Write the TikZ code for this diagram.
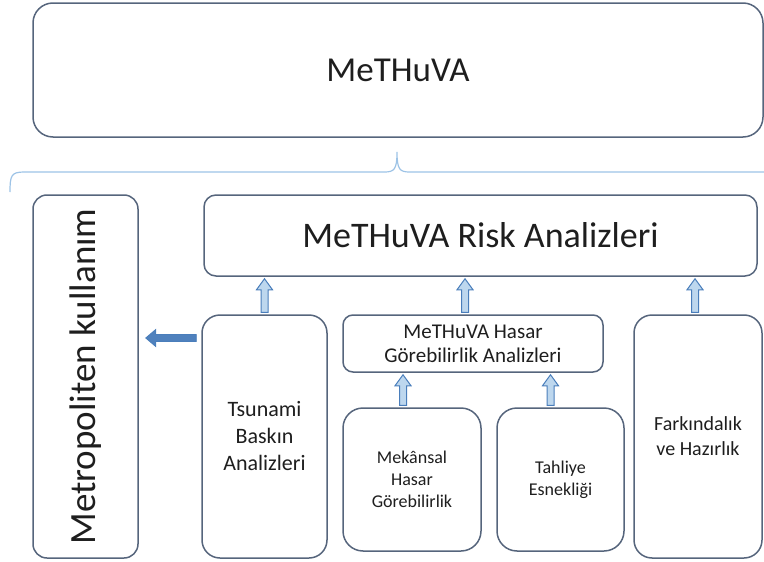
\documentclass[tikz,border=0pt]{standalone}
\usepackage{fontspec}
\setmainfont{Carlito}
\usetikzlibrary{calc}
\definecolor{kutucizgi}{HTML}{56657C}
\definecolor{ayrac}{HTML}{9DC3E6}
\definecolor{okdolgu}{HTML}{BDD7EE}
\definecolor{okcizgi}{HTML}{4A7EBB}
\definecolor{okmavi}{HTML}{4F81BD}
\definecolor{yazi}{HTML}{1E1E1E}
\tikzset{
  kutu/.style={draw=kutucizgi, line width=1.5pt, rounded corners=#1, text=yazi, align=center, inner sep=0pt},
  kutu/.default=18pt,
  yukariok/.style={draw=okcizgi, fill=okdolgu, line width=1pt,
    to path={let \p1=(\tikztostart), \p2=(\tikztotarget) in
      (\x1-3.5pt,\y1+2pt) -- (\x1-3.5pt,\y2-13pt) -- (\x1-8pt,\y2-13pt) -- (\x1,\y2-2pt)
      -- (\x1+8pt,\y2-13pt) -- (\x1+3.5pt,\y2-13pt) -- (\x1+3.5pt,\y1+2pt) -- cycle}},
  solaok/.style={draw=okcizgi, fill=okmavi, line width=0.8pt,
    to path={let \p1=(\tikztostart), \p2=(\tikztotarget) in
      (\x1-5pt,\y1+3.5pt) -- (\x2+17pt,\y1+3.5pt) -- (\x2+17pt,\y1+8.5pt) -- (\x2+7pt,\y1)
      -- (\x2+17pt,\y1-8.5pt) -- (\x2+17pt,\y1-3.5pt) -- (\x1-5pt,\y1-3.5pt) -- cycle}}
}
\begin{document}
\begin{tikzpicture}[x=1pt,y=-1pt]
  \useasboundingbox (0,0) rectangle (764,562);
  % ust kutu
  \node (methuva) at (398,70) [kutu=20pt, minimum width=730pt, minimum height=134pt,
    font=\fontsize{35}{40}\selectfont] {MeTHuVA};
  % ayrac
  \draw[ayrac, line width=1.2pt] (10,192) .. controls (10,176) and (11,172) .. (24,172) -- (384,172)
    .. controls (394,172) and (397,170) .. (397,152) .. controls (397,170) and (400,172) .. (410,172) -- (770,172);
  % alt kutular
  \node (metro) at (85.5,376.5) [kutu=14pt, rotate=90, minimum width=363pt, minimum height=105pt,
    font=\fontsize{37}{40}\selectfont] {Metropoliten kullanım};
  \node (risk) at (480.5,235.5) [kutu=12pt, minimum width=553pt, minimum height=81pt,
    font=\fontsize{36}{40}\selectfont] {MeTHuVA Risk Analizleri};
  \node (tsunami) at (264.5,436.5) [kutu, minimum width=125pt, minimum height=243pt,
    font=\fontsize{22}{27}\selectfont] {Tsunami\\Baskın\\Analizleri};
  \node (hasar) at (473,343.5) [kutu=10pt, minimum width=260pt, minimum height=57pt,
    font=\fontsize{21}{24}\selectfont] {MeTHuVA Hasar\\Görebilirlik Analizleri};
  \node (mekan) at (412,479.5) [kutu=20pt, minimum width=138pt, minimum height=143pt,
    font=\fontsize{18}{22}\selectfont] {Mekânsal\\Hasar\\Görebilirlik};
  \node (tahliye) at (560.5,479.5) [kutu=20pt, minimum width=127pt, minimum height=143pt,
    font=\fontsize{18}{22}\selectfont] {Tahliye\\Esnekliği};
  \node (farkin) at (698,436.5) [kutu, minimum width=128pt, minimum height=243pt,
    font=\fontsize{20}{25}\selectfont] {Farkındalık\\ve Hazırlık};
  % oklar
  \draw[yukariok] (tsunami.north) to (risk.south);
  \draw[yukariok] ([xshift=-8pt]hasar.north) to (risk.south);
  \draw[yukariok] ([xshift=-3pt]farkin.north) to (risk.south);
  \draw[yukariok] ([xshift=-9pt]mekan.north) to (hasar.south);
  \draw[yukariok] ([xshift=-10pt]tahliye.north) to (hasar.south);
  \draw[solaok] ([yshift=98.5pt]tsunami.west) to (metro.south);
\end{tikzpicture}
\end{document}
